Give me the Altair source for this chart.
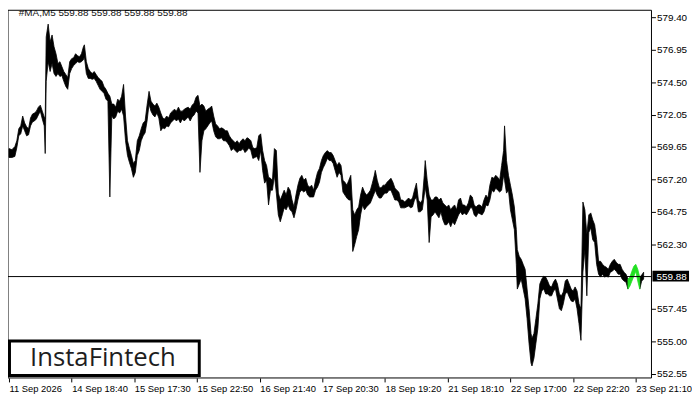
import altair as alt
import pandas as pd

# ---------------- data ----------------
bar_index = [
    0, 3, 6, 8, 10, 12, 14, 16, 18, 20,
    22, 24, 26, 28, 30, 32, 34, 36, 37, 38,
    40, 42, 44, 46, 48, 50, 52, 54, 56, 58,
    60, 62, 64, 66, 68, 70, 72, 74, 76, 77,
    79, 81, 83, 85, 87, 89, 91, 93, 95, 97,
    99, 101, 103, 105, 107, 109, 111, 113, 115, 117,
    119, 121, 123, 125, 127, 129, 131, 133, 135, 137,
    139, 141, 143, 145, 147, 149, 151, 153, 155, 157,
    159, 161, 163, 165, 167, 169, 171, 173, 175, 177,
    179, 181, 183, 185, 187, 189, 191, 193, 195, 197,
    199, 201, 203, 205, 207, 209, 211, 213, 215, 217,
    219, 221, 223, 225, 227, 229, 231, 233, 235, 237,
    239, 241, 243, 245, 247, 249, 251, 253, 255, 257,
    259, 261, 263, 265, 267, 269, 271, 273, 275, 277,
    279, 281, 283, 285, 287, 289, 291, 293, 295, 297,
    299, 301, 303, 305, 307, 309, 311, 313, 315, 317,
    319, 321, 323, 325, 327, 329, 331, 333, 335, 337,
    339, 341, 343, 345, 347, 349, 351, 353, 355, 357,
    359, 361, 363, 365, 367, 369, 371, 373, 374, 376,
    378, 380, 382, 384, 386, 388, 390, 392, 394, 396,
    398, 400, 402, 404, 406, 408, 410, 412, 414, 416,
    418, 420, 422, 424, 425, 427, 429, 431, 433, 435,
    437, 439, 441, 443, 445, 447, 449, 451, 453, 455,
    457, 459, 461, 463, 465, 467, 469, 471, 473, 475,
    477, 479, 481, 483, 485, 487, 489, 491, 493, 495,
    497, 499, 501, 503, 505, 506, 508, 510, 512, 514,
    516, 518, 519, 521, 523, 525, 527, 529, 531, 533,
    534, 536, 538, 540, 542, 544, 546, 548, 550, 552,
    554, 556, 558, 560, 562, 564, 566, 568, 570, 572,
    574, 576, 578, 580, 582, 584, 586, 588, 590, 592,
    594, 596, 598, 600, 602, 604, 606, 608, 610, 612,
    614, 616, 618, 620, 622, 624, 626, 628, 630, 632,
    634, 636, 638, 640, 642, 644, 646, 648,
]

high = [
    569.51, 569.43, 569.66, 570.10, 571.00, 571.22, 571.96, 571.44, 571.15, 571.00,
    571.81, 572.11, 572.19, 572.33, 572.63, 572.78, 572.33, 571.89, 571.74, 577.91,
    578.88, 577.54, 578.06, 577.17, 576.65, 575.91, 576.05, 575.68, 575.31, 575.09,
    574.86, 576.05, 576.28, 576.35, 576.65, 576.50, 576.42, 576.65, 577.17, 577.32,
    576.05, 575.53, 575.31, 575.16, 575.31, 575.09, 574.86, 574.72, 574.57, 574.19,
    573.97, 573.67, 573.45, 572.86, 572.86, 572.63, 573.23, 573.08, 573.45, 574.34,
    571.96, 570.10, 569.51, 568.99, 568.39, 568.61, 570.10, 570.47, 571.00, 571.44,
    571.59, 572.78, 573.82, 573.08, 572.86, 572.71, 572.93, 572.63, 572.19, 571.81,
    571.74, 571.96, 571.81, 572.19, 572.33, 572.48, 572.33, 572.63, 572.33, 572.33,
    572.48, 572.56, 572.63, 572.48, 572.78, 572.93, 573.38, 573.52, 572.71, 572.86,
    572.71, 572.33, 572.48, 572.56, 572.71, 571.96, 571.37, 571.22, 571.00, 571.07,
    571.00, 570.85, 570.85, 570.47, 570.25, 570.10, 569.95, 570.10, 569.88, 570.10,
    570.25, 570.10, 570.33, 570.25, 570.10, 569.58, 569.51, 569.58, 570.47, 570.62,
    569.36, 568.61, 568.24, 567.35, 567.28, 567.13, 569.51, 569.36, 566.16, 565.64,
    566.01, 566.38, 566.01, 566.61, 566.38, 565.64, 565.12, 566.01, 566.76, 567.28,
    567.50, 567.13, 567.28, 566.76, 566.61, 566.76, 566.38, 567.13, 567.72, 568.02,
    568.61, 568.99, 569.21, 569.36, 569.21, 569.21, 568.99, 568.61, 568.24, 568.47,
    568.24, 567.13, 566.98, 566.76, 567.13, 567.50, 564.90, 564.52, 564.90, 565.12,
    566.01, 566.61, 566.24, 566.01, 566.16, 566.38, 566.91, 567.50, 567.87, 567.13,
    566.61, 566.54, 566.76, 566.76, 566.98, 567.13, 567.28, 566.98, 566.54, 566.38,
    566.24, 565.64, 565.64, 565.49, 565.64, 565.79, 565.64, 565.79, 566.38, 566.91,
    565.64, 565.42, 565.64, 567.50, 568.61, 567.13, 566.01, 565.64, 565.64, 565.87,
    565.87, 565.64, 565.79, 565.42, 565.27, 565.12, 565.27, 564.90, 565.12, 565.27,
    564.90, 565.64, 565.79, 565.27, 565.27, 565.12, 565.42, 566.01, 565.87, 565.27,
    565.12, 565.27, 565.27, 565.12, 565.64, 566.01, 565.79, 566.76, 567.35, 567.28,
    567.50, 567.35, 567.13, 568.24, 569.36, 571.22, 568.61, 567.50, 566.76, 566.01,
    565.12, 563.41, 561.92, 561.40, 561.18, 560.80, 560.43, 558.94, 557.46, 555.60,
    555.23, 555.60, 556.71, 557.83, 559.32, 559.69, 559.91, 559.84, 559.54, 559.17,
    559.10, 559.47, 559.69, 559.32, 558.57, 558.43, 558.72, 559.54, 559.69, 559.32,
    558.94, 558.80, 559.10, 558.80, 557.83, 557.46, 565.49, 564.90, 563.04, 564.52,
    564.67, 564.15, 563.78, 562.66, 561.03, 561.03, 560.80, 560.66, 560.58, 560.43,
    560.80, 561.03, 561.18, 560.96, 560.80, 560.80, 560.43, 560.21, 560.06, 559.69,
    559.84, 560.28, 560.66, 560.80, 560.43, 559.84, 559.99, 560.21,
]

low = [
    568.84, 568.84, 568.92, 569.58, 570.47, 570.62, 571.22, 570.85, 570.47, 570.55,
    571.22, 571.52, 571.59, 571.74, 572.04, 572.33, 571.74, 571.22, 569.14, 574.57,
    576.05, 575.31, 575.91, 575.16, 574.94, 575.16, 574.94, 575.01, 574.57, 574.19,
    573.97, 575.16, 575.53, 575.76, 575.91, 576.05, 575.98, 576.05, 576.20, 576.42,
    575.16, 574.79, 574.79, 574.72, 574.79, 574.57, 574.27, 573.97, 573.82, 573.67,
    573.23, 573.08, 565.87, 571.96, 571.74, 571.89, 572.33, 572.19, 572.48, 571.96,
    570.10, 568.99, 568.47, 568.02, 567.35, 567.72, 568.99, 569.36, 570.10, 570.47,
    570.70, 571.59, 572.86, 572.33, 572.04, 571.89, 572.19, 571.81, 570.85, 571.07,
    571.00, 571.22, 571.15, 571.44, 571.59, 571.74, 571.59, 571.74, 571.44, 571.74,
    571.59, 571.74, 571.89, 571.59, 571.89, 572.04, 572.33, 572.19, 567.72, 570.10,
    570.85, 571.00, 571.22, 571.44, 571.59, 570.85, 570.40, 570.25, 570.25, 570.33,
    570.10, 570.10, 569.95, 569.73, 569.36, 569.51, 569.36, 569.21, 569.36, 569.36,
    569.51, 569.21, 569.36, 569.58, 569.36, 568.77, 568.84, 568.92, 568.61, 569.36,
    567.87, 566.91, 567.13, 565.27, 566.38, 566.38, 567.50, 566.16, 564.52, 564.00,
    564.52, 565.05, 564.90, 565.27, 564.90, 564.75, 564.30, 564.90, 565.64, 566.24,
    566.38, 566.24, 566.38, 566.01, 565.87, 565.87, 565.87, 566.38, 566.61, 566.98,
    567.72, 568.09, 568.39, 568.77, 568.61, 568.61, 568.39, 567.87, 567.35, 567.72,
    567.50, 566.24, 566.01, 565.79, 565.64, 565.64, 561.77, 562.29, 562.89, 563.41,
    564.52, 565.27, 564.90, 565.12, 565.27, 565.42, 565.79, 566.16, 566.38, 566.01,
    565.79, 565.79, 566.01, 566.16, 566.16, 566.38, 566.38, 566.01, 565.64, 565.64,
    565.49, 565.05, 565.05, 565.05, 565.12, 565.20, 565.05, 565.12, 565.64, 565.87,
    564.75, 564.75, 564.90, 566.01, 566.61, 565.64, 562.44, 564.38, 564.52, 564.75,
    564.52, 564.30, 564.75, 564.15, 563.78, 563.78, 564.00, 563.63, 564.00, 563.78,
    564.15, 564.52, 564.75, 564.52, 564.67, 564.52, 564.75, 565.05, 565.05, 564.52,
    564.38, 564.67, 564.60, 564.52, 564.75, 565.27, 565.20, 565.64, 566.38, 566.24,
    566.54, 566.38, 566.24, 566.38, 567.50, 567.13, 566.16, 566.38, 564.90, 564.15,
    563.41, 560.80, 558.94, 559.32, 559.69, 558.94, 558.20, 556.71, 554.85, 553.37,
    553.15, 553.74, 554.85, 555.97, 558.20, 558.80, 558.94, 558.57, 558.57, 558.43,
    558.43, 558.80, 558.94, 558.20, 557.46, 557.31, 557.83, 558.57, 558.72, 558.35,
    558.05, 557.98, 558.20, 557.46, 556.34, 555.08, 560.21, 561.92, 558.43, 563.19,
    563.56, 562.66, 562.44, 560.80, 560.06, 559.84, 560.06, 559.84, 559.91, 559.84,
    560.21, 560.28, 560.43, 560.28, 560.06, 560.06, 559.69, 559.54, 559.47, 558.94,
    559.17, 559.54, 559.91, 560.28, 559.54, 558.94, 559.54, 559.69,
]

pattern_start, pattern_end = 632, 644      # bars drawn in green
current_price = 559.88
title_text = "#MA,M5  559.88 559.88 559.88 559.88"

price_ticks = [579.40, 576.95, 574.50, 572.05, 569.65, 567.20, 564.75, 562.30,
               557.45, 555.00, 552.55]
time_tick_index = [0, 64, 128, 192, 256, 320, 384, 448, 512, 576, 640]
time_tick_labels = ["11 Sep 2026", "14 Sep 18:40", "15 Sep 17:30", "15 Sep 22:50",
                    "16 Sep 21:40", "17 Sep 20:30", "18 Sep 19:20", "21 Sep 18:10",
                    "22 Sep 17:00", "22 Sep 22:20", "23 Sep 21:10"]
logo_text = "InstaFintech"

# ---------------- build tables ----------------
assert len(bar_index) == len(high) == len(low)
black_rows, green_rows = [], []
for i, h, l in zip(bar_index, high, low):
    if i <= pattern_start:
        black_rows.append(dict(i=i, hi=h, lo=l, seg="a"))
    if i >= pattern_end:
        black_rows.append(dict(i=i, hi=h, lo=l, seg="b"))
    if pattern_start <= i <= pattern_end:
        green_rows.append(dict(i=i, hi=h, lo=l, seg="g"))
black_df = pd.DataFrame(black_rows)
green_df = pd.DataFrame(green_rows)

W, H = 651, 372
FONT = "Liberation Sans"

xs = alt.Scale(domain=[-1, 656], nice=False, zero=False)
ys = alt.Scale(domain=[552.25, 579.92], nice=False, zero=False)

label_arr = "[" + ",".join("'" + s + "'" for s in time_tick_labels) + "]"

x_axis = alt.Axis(orient="bottom", values=time_tick_index,
                  labelExpr=label_arr + "[round(datum.value / 64)]",
                  labelAlign="left", labelBaseline="top", tickSize=4,
                  labelPadding=2, labelFlush=False, labelOverlap=False,
                  domain=False, grid=False, tickColor="black",
                  labelColor="black", labelFont=FONT, labelFontSize=9.5,
                  title=None)
y_axis = alt.Axis(orient="right", values=price_ticks, format=".2f",
                  tickSize=4, labelPadding=1, domain=False, grid=False,
                  tickColor="black", labelColor="black", labelFont=FONT,
                  labelFontSize=10, labelOverlap=False, labelFlush=False,
                  title=None)


def X(field):
    return alt.X(field, scale=xs, axis=x_axis, title=None)


def Y(field):
    return alt.Y(field, scale=ys, axis=y_axis, title=None)


black = alt.Chart(black_df).mark_area(
    color="black", stroke="black", strokeWidth=0.8, interpolate="linear"
).encode(x=X("i:Q"), y=Y("hi:Q"), y2="lo:Q", detail="seg:N")

green = alt.Chart(green_df).mark_area(
    color="#22e022", stroke="#22e022", strokeWidth=0.8, interpolate="linear"
).encode(x=X("i:Q"), y=Y("hi:Q"), y2="lo:Q")

cur_df = pd.DataFrame({"p": [current_price], "t": [f"{current_price:.2f}"]})

cur_line = alt.Chart(cur_df).mark_rule(color="black", strokeWidth=1).encode(
    y=Y("p:Q"), x=alt.value(0), x2=alt.value(W)
)
cur_box = alt.Chart(cur_df).mark_rect(color="black", yOffset=-6, y2Offset=5).encode(
    y=Y("p:Q"), y2="p:Q", x=alt.value(W + 1), x2=alt.value(W + 38)
)
cur_text = alt.Chart(cur_df).mark_text(
    color="white", align="left", baseline="middle", font=FONT, fontSize=10
).encode(y=Y("p:Q"), x=alt.value(W + 5), text="t:N")

title = alt.Chart(pd.DataFrame({"t": [title_text]})).mark_text(
    align="left", baseline="middle", font=FONT, fontSize=10, color="#111111"
).encode(x=alt.value(11), y=alt.value(3), text="t:N")

frame = alt.Chart(pd.DataFrame({"k": [0]})).mark_rect(
    fill=None, stroke="black", strokeWidth=1
).encode(x=alt.value(0), x2=alt.value(W), y=alt.value(0), y2=alt.value(H))

logo_box = alt.Chart(pd.DataFrame({"k": [0]})).mark_rect(
    fill="white", stroke="black", strokeWidth=3
).encode(x=alt.value(1.5), x2=alt.value(193.5), y=alt.value(334.5), y2=alt.value(369.5))
logo_txt = alt.Chart(pd.DataFrame({"t": [logo_text]})).mark_text(
    align="center", baseline="middle", font="Open Sans", fontSize=26,
    fontWeight=500, color="#1e1e1e"
).encode(x=alt.value(96), y=alt.value(352), text="t:N")

chart = alt.layer(
    black, green, cur_line, cur_box, cur_text, title, frame, logo_box, logo_txt
).properties(
    width=W, height=H, background="white",
    padding={"left": 0, "top": 0, "right": 41, "bottom": 20},
    autosize="none",
).configure_view(stroke=None)

chart.save("out.html", embed_options={"renderer": "svg", "actions": False})
